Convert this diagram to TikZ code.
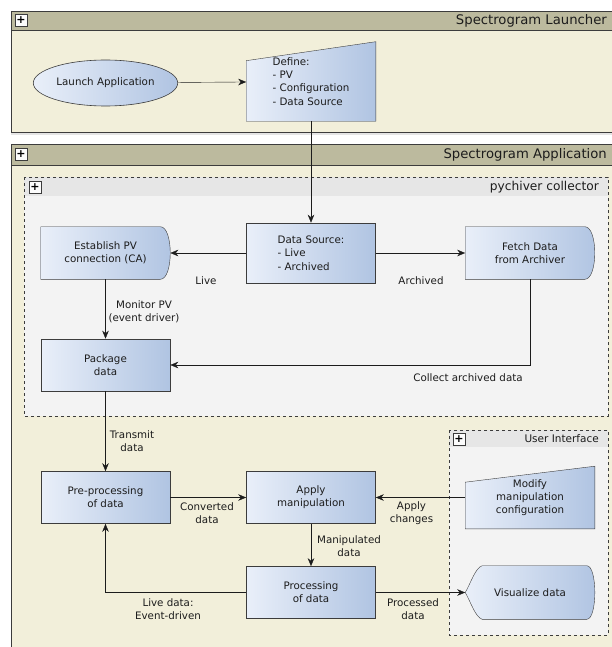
\documentclass[tikz,border=0pt]{standalone}
\usepackage{fontspec}
\setmainfont{DejaVu Sans}
\usetikzlibrary{arrows.meta,shapes.geometric,positioning}

\definecolor{poolhead}{RGB}{188,186,158}
\definecolor{poolbody}{RGB}{242,239,218}
\definecolor{lanehead}{RGB}{230,230,230}
\definecolor{lanebody}{RGB}{243,243,243}
\definecolor{boxlight}{RGB}{233,239,249}
\definecolor{boxdark}{RGB}{176,196,226}
\definecolor{edge}{RGB}{60,60,60}
\definecolor{ink}{RGB}{28,28,28}

\newcommand{\boxfont}{\fontsize{10.3}{13.3}\selectfont}

\pgfdeclarelayer{lanes}
\pgfdeclarelayer{shapes}
\pgfsetlayers{lanes,shapes,main}

\tikzset{
  box/.style={rectangle, draw=edge, left color=boxlight, right color=boxdark,
    minimum width=129pt, minimum height=52pt, inner sep=2pt, align=center,
    font=\boxfont, text=ink},
  bare/.style={rectangle, minimum width=129pt, minimum height=52pt,
    inner sep=2pt, align=center, font=\boxfont, text=ink},
  shapefill/.style={draw=edge, left color=boxlight, right color=boxdark},
  lbl/.style={align=center, font=\boxfont, text=ink, inner sep=1pt},
  plusbox/.style={draw=edge, fill=white!90!black!10, minimum size=12pt, inner sep=0pt,
    font=\bfseries\fontsize{11}{11}\selectfont},
  pooltitle/.style={anchor=east, inner sep=0pt, text=ink},
}

\begin{document}
\begin{tikzpicture}[x=1pt, y=-1pt, >={Stealth[length=8pt,width=6.5pt]}, semithick]
    \useasboundingbox (0,0) rectangle (611,647);

    \node[bare, shape=ellipse, draw=edge, left color=boxlight, right color=boxdark,
      minimum width=129pt, minimum height=46pt] (launch) at (105.5,83) {Launch Application};
    \node[bare, minimum height=79pt, align=left] (define) at (311,81.5)
      {Define:\\- PV\\- Configuration\\- Data Source};
    \node[box, minimum height=60pt, align=left] (source) at (311,253)
      {Data Source:\\- Live\\- Archived};
    \node[bare] (establish) at (105.5,253) {Establish PV\\connection (CA)};
    \node[bare] (fetch) at (530,253) {Fetch Data\\from Archiver};
    \node[box] (package) at (105.5,365) {Package\\data};
    \node[box] (pre) at (105.5,497.5) {Pre-processing\\of data};
    \node[box] (apply) at (311,497.5) {Apply\\manipulation};
    \node[box] (proc) at (311,592.5) {Processing\\of data};
    \node[bare, minimum height=62pt] (modify) at (530,497.5)
      {Modify\\manipulation\\configuration};
    \node[bare, minimum height=53pt] (visual) at (530,592.5) {Visualize data};

    \begin{pgfonlayer}{lanes}
        \fill[black!10] (11,132) rectangle (616,135);
        \draw[edge, fill=poolbody] (11,11) rectangle (616,132);
        \draw[edge, fill=poolhead] (11,11) rectangle (616,30);
        \draw[edge, fill=poolbody] (11,144) rectangle (616,660);
        \draw[edge, fill=poolhead] (11,144) rectangle (616,165);
        \fill[lanebody] (24,177) rectangle (608,416);
        \fill[lanehead] (24,177) rectangle (608,196);
        \draw[edge, dashed] (24,177) rectangle (608,416);
        \fill[lanebody] (449,430) rectangle (608,635);
        \fill[lanehead] (449,430) rectangle (608,447);
        \draw[edge, dashed] (449,430) rectangle (608,635);
    \end{pgfonlayer}

    \begin{pgfonlayer}{shapes}
        \path[shapefill] (define.south west) -- ([yshift=-19pt]define.north west)
          -- (define.north east) -- (define.south east) -- cycle;
        \path[shapefill] (modify.south west) -- ([yshift=-16pt]modify.north west)
          -- (modify.north east) -- (modify.south east) -- cycle;
        \foreach \n in {establish,fetch}
            \path[shapefill] (\n.north west) -- ([xshift=-10pt]\n.north east)
              .. controls ([xshift=3.3pt]\n.north east) and ([xshift=3.3pt]\n.south east)
              .. ([xshift=-10pt]\n.south east) -- (\n.south west) -- cycle;
        \path[shapefill] (visual.west)
          .. controls ([xshift=5pt,yshift=8pt]visual.west) and ([xshift=10pt,yshift=-2pt]visual.north west)
          .. ([xshift=17pt]visual.north west) -- ([xshift=-8pt]visual.north east)
          .. controls ([xshift=2.7pt]visual.north east) and ([xshift=2.7pt]visual.south east)
          .. ([xshift=-8pt]visual.south east) -- ([xshift=17pt]visual.south west)
          .. controls ([xshift=10pt,yshift=2pt]visual.south west) and ([xshift=5pt,yshift=-8pt]visual.west)
          .. (visual.west) -- cycle;
    \end{pgfonlayer}

    \node[plusbox] (pluslauncher) at (21,20.5) {+};
    \node[plusbox] (plusapp) at (21,154.5) {+};
    \node[plusbox] (pluscollector) at (35,187) {+};
    \node[plusbox] (plusui) at (459,439) {+};
    \node[pooltitle, font=\fontsize{13.2}{15}\selectfont] (launchertitle) at (607,21) {Spectrogram Launcher};
    \node[pooltitle, font=\fontsize{13.2}{15}\selectfont] (apptitle) at (607,155) {Spectrogram Application};
    \node[pooltitle, font=\fontsize{12.2}{14}\selectfont] (collectortitle) at (599,187) {pychiver collector};
    \node[pooltitle, font=\fontsize{10.5}{12}\selectfont] (uititle) at (599,439) {User Interface};

    \draw[->, ink] (launch) -- (define);
    \draw[->, ink] (define) -- (source);
    \draw[->, ink] (source) -- (establish);
    \draw[->, ink] (source) -- (fetch);
    \draw[->, ink] (establish) -- (package);
    \draw[->, ink] (fetch.south) |- (package.east);
    \draw[->, ink] (package) -- (pre);
    \draw[->, ink] (pre) -- (apply);
    \draw[->, ink] (modify) -- (apply);
    \draw[->, ink] (apply) -- (proc);
    \draw[->, ink] (proc.west) -| (pre.south);
    \draw[->, ink] (proc) -- (visual);

    \node[lbl] (livelbl) at (206,281) {Live};
    \node[lbl] (archivedlbl) at (421,281) {Archived};
    \node[lbl] (monitorlbl) at (144,311.5) {Monitor PV\\(event driver)};
    \node[lbl] (collectlbl) at (468,378) {Collect archived data};
    \node[lbl] (transmitlbl) at (132,441.5) {Transmit\\data};
    \node[lbl] (convertedlbl) at (207,513) {Converted\\data};
    \node[lbl] (changeslbl) at (411.5,513) {Apply\\changes};
    \node[lbl] (manipulatedlbl) at (349,546.5) {Manipulated\\data};
    \node[lbl] (livedatalbl) at (168,609.5) {Live data:\\Event-driven};
    \node[lbl] (processedlbl) at (413,609.5) {Processed\\data};
\end{tikzpicture}
\end{document}
